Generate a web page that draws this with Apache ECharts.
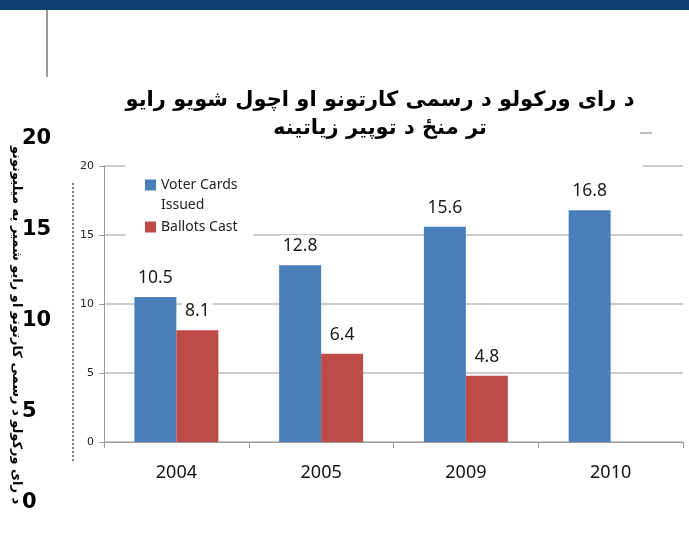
<!DOCTYPE html>
<html>
<head>
<meta charset="utf-8">
<script src="https://cdn.jsdelivr.net/npm/echarts@6/dist/echarts.min.js"></script>
<style>
  html, body { margin: 0; padding: 0; background: #fff; }
  #chart { width: 689px; height: 533px; }
</style>
</head>
<body>
<div id="chart"></div>
<script>
var years = ['2004', '2005', '2009', '2010'];
var voterCards = [10.5, 12.8, 15.6, 16.8];
var ballotsCast = [8.1, 6.4, 4.8, null];
var yTicks = { min: 0, max: 20, interval: 5 };
var titleText = 'د رای ورکولو د رسمی کارتونو او اچول شویو رایو\nتر منځ د توپیر زیاتینه';
var sideText = 'د رای ورکولو د رسمی کارتونو او رایو شمیر په میلیونونو';
var sideNums = ['20', '15', '10', '5', '0'];

var chart = echarts.init(document.getElementById('chart'));

// leftover slide bits: big numbers down the left edge
var sideGraphics = sideNums.map(function (n, i) {
    return {
        type: 'text', left: 22, top: 128 + i * 91, z: 100,
        style: { text: n, font: 'bold 21px "DejaVu Sans"', fill: '#000' }
    };
});

var barLabel = {
    show: true,
    position: 'top',
    distance: 8,
    fontSize: 17.5,
    fontFamily: 'Noto Sans',
    color: '#1a1a1a',
    backgroundColor: '#fff',
    padding: [2, 3]
};

var option = {
    backgroundColor: '#fff',
    animation: false,
    color: ['#4A7EBB', '#BE4B48'],
    grid: { left: 104, right: 6, top: 166, bottom: 91 },
    legend: {
        orient: 'vertical',
        left: 125,
        top: 150,
        padding: [5, 16, 5, 20],
        backgroundColor: '#fff',
        itemGap: 2,
        itemWidth: 11,
        itemHeight: 11,
        icon: 'rect',
        data: ['Voter Cards Issued', 'Ballots Cast'],
        // blank first line keeps the swatch level with "Voter Cards"
        formatter: function (name) {
            return name === 'Voter Cards Issued' ? ' \nVoter Cards\nIssued' : name;
        },
        textStyle: { fontSize: 14, fontFamily: 'Noto Sans', color: '#222', lineHeight: 20 }
    },
    xAxis: {
        type: 'category',
        data: years,
        axisLine: { lineStyle: { color: '#9a9a9a', width: 1 } },
        axisTick: { show: true, length: 6, lineStyle: { color: '#9a9a9a' } },
        axisLabel: { fontSize: 18, fontFamily: 'Noto Sans', color: '#111', margin: 22 }
    },
    yAxis: {
        type: 'value',
        min: yTicks.min,
        max: yTicks.max,
        interval: yTicks.interval,
        axisLine: { show: true, lineStyle: { color: '#9a9a9a', width: 1 } },
        axisTick: { show: true, length: 5, lineStyle: { color: '#9a9a9a' } },
        axisLabel: { fontSize: 11, fontFamily: 'DejaVu Sans', color: '#222', margin: 10 },
        splitLine: { lineStyle: { color: '#bbbbbb', width: 1.5 } }
    },
    series: [
        {
            name: 'Voter Cards Issued',
            type: 'bar',
            data: voterCards,
            barGap: '0%',
            barCategoryGap: '42%',
            label: barLabel
        },
        {
            name: 'Ballots Cast',
            type: 'bar',
            data: ballotsCast,
            label: barLabel
        }
    ],
    graphic: [
        { type: 'rect', left: 0, top: 0, z: 100, shape: { width: 689, height: 10 }, style: { fill: '#0E3F6E' } },
        { type: 'line', z: 100, shape: { x1: 47, y1: 10, x2: 47, y2: 77 }, style: { stroke: '#9a9a9a', lineWidth: 2 } },
        // white patch that hides the top gridline under the title in the original
        { type: 'rect', z: 100, shape: { x: 240, y: 162, width: 403, height: 8 }, style: { fill: '#fff' } },
        { type: 'line', z: 100, shape: { x1: 640, y1: 133, x2: 652, y2: 133 }, style: { stroke: '#aaa', lineWidth: 1.5 } },
        {
            type: 'text', z: 100, x: 380, y: 87,
            style: {
                text: titleText, font: 'bold 21px "DejaVu Sans"', fill: '#000',
                textAlign: 'center', textVerticalAlign: 'top', lineHeight: 28
            }
        },
        { type: 'line', z: 100, shape: { x1: 73, y1: 183, x2: 73, y2: 462 }, style: { stroke: '#000', lineWidth: 1, lineDash: [2, 2] } },
        {
            type: 'text', z: 100, x: 16, y: 325, rotation: -Math.PI / 2,
            style: {
                text: sideText, font: 'bold 13px "DejaVu Sans"', fill: '#000',
                textAlign: 'center', textVerticalAlign: 'middle'
            }
        }
    ].concat(sideGraphics)
};

chart.setOption(option);
window.addEventListener('resize', chart.resize);
</script>
</body>
</html>
